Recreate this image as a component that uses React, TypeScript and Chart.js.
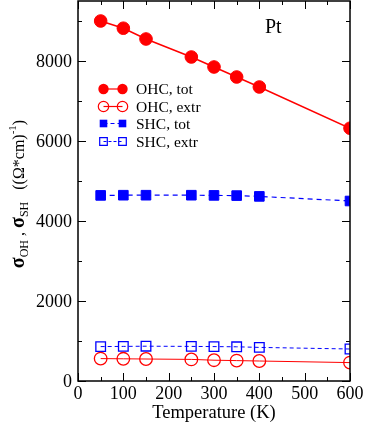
import React, { useEffect, useRef } from "react";
import { Chart, registerables } from "chart.js";

Chart.register(...registerables);

const temps = [50, 100, 150, 250, 300, 350, 400, 600];
const ohcTot = [9000, 8820, 8550, 8100, 7850, 7600, 7350, 6320];
const ohcExtr = [560, 555, 550, 540, 520, 510, 500, 460];
const shcTot = [4640, 4645, 4645, 4645, 4640, 4635, 4615, 4500];
const shcExtr = [860, 865, 870, 865, 860, 855, 840, 800];
const xTicks = [0, 100, 200, 300, 400, 500, 600];
const yTicks = [0, 2000, 4000, 6000, 8000];
const legendLabels = ["OHC, tot", "OHC, extr", "SHC, tot", "SHC, extr"];
const panelLabel = "Pt";
const xTitle = "Temperature (K)";

const RED = "#ff0000";
const BLUE = "#0000ff";
const FONT = "'Liberation Serif', 'Times New Roman', serif";

const framePlugin = {
  id: "frame",
  afterDraw(chart: any) {
    const { ctx, chartArea: a, scales } = chart;
    const xs = scales.x, ys = scales.y;
    ctx.save();
    ctx.strokeStyle = "#000";
    ctx.lineWidth = 1.5;
    ctx.strokeRect(a.left, a.top, a.right - a.left, a.bottom - a.top);
    ctx.lineWidth = 1;
    for (let v = 0; v <= 600; v += 50) {
      const x = Math.round(xs.getPixelForValue(v)) + 0.5;
      const len = v % 100 === 0 ? 8 : 4;
      ctx.beginPath();
      ctx.moveTo(x, a.bottom); ctx.lineTo(x, a.bottom - len);
      ctx.moveTo(x, a.top); ctx.lineTo(x, a.top + len);
      ctx.stroke();
    }
    for (let v = 0; v <= 9000; v += 1000) {
      const y = Math.round(ys.getPixelForValue(v)) + 0.5;
      const len = v % 2000 === 0 ? 8 : 4;
      ctx.beginPath();
      ctx.moveTo(a.left, y); ctx.lineTo(a.left + len, y);
      ctx.moveTo(a.right, y); ctx.lineTo(a.right - len, y);
      ctx.stroke();
    }
    ctx.fillStyle = "#000";
    ctx.font = `18px ${FONT}`;
    ctx.textAlign = "right";
    ctx.textBaseline = "middle";
    yTicks.forEach((v) => {
      ctx.fillText(String(v), a.left - 6, ys.getPixelForValue(v) + 1);
    });

    ctx.font = `20px ${FONT}`;
    ctx.textAlign = "left";
    ctx.textBaseline = "alphabetic";
    ctx.fillText(panelLabel, 265, 33);

    const rows = [89, 106.5, 123.5, 141.5];
    const styles = [
      { color: RED, shape: "circle", fill: true, dash: [] as number[] },
      { color: RED, shape: "circle", fill: false, dash: [] as number[] },
      { color: BLUE, shape: "rect", fill: true, dash: [4, 3] },
      { color: BLUE, shape: "rect", fill: false, dash: [3, 2] },
    ];
    ctx.font = `15.5px ${FONT}`;
    ctx.textBaseline = "middle";
    rows.forEach((y, i) => {
      const s = styles[i];
      const x1 = 103.5, x2 = 122.5;
      ctx.strokeStyle = s.color;
      ctx.lineWidth = 1.2;
      ctx.setLineDash(s.dash);
      ctx.beginPath(); ctx.moveTo(x1, y); ctx.lineTo(x2, y); ctx.stroke();
      ctx.setLineDash([]);
      [x1, x2].forEach((x) => {
        ctx.beginPath();
        if (s.shape === "circle") {
          ctx.arc(x, y, 5.2, 0, Math.PI * 2);
        } else {
          ctx.rect(x - 3.8, y - 3.8, 7.6, 7.6);
        }
        if (s.fill) { ctx.fillStyle = s.color; ctx.fill(); }
        else { ctx.lineWidth = 1.2; ctx.stroke(); }
      });
      ctx.fillStyle = "#000";
      ctx.fillText(legendLabels[i], 136, y + 1);
    });

    ctx.save();
    ctx.translate(18, 194);
    ctx.rotate(-Math.PI / 2);
    ctx.fillStyle = "#000";
    ctx.textBaseline = "alphabetic";
    const parts: [string, string, number][] = [
      ["σ", `bold 20px ${FONT}`, 0], ["OH", `12px ${FONT}`, 4], [" , ", `16px ${FONT}`, 0],
      ["σ", `bold 20px ${FONT}`, 0], ["SH", `12px ${FONT}`, 4],
      ["   ((Ω*cm)", `16px ${FONT}`, 0], ["-1", `11px ${FONT}`, -8], [")", `16px ${FONT}`, 0],
    ];
    let total = 0;
    parts.forEach(([t, f]) => { ctx.font = f; total += ctx.measureText(t).width; });
    let cx = -total / 2;
    parts.forEach(([t, f, dy]) => {
      ctx.font = f;
      ctx.fillText(t, cx, 6 + dy);
      cx += ctx.measureText(t).width;
    });
    ctx.restore();
    ctx.restore();
  },
};

export default function App() {
  const ref = useRef<HTMLCanvasElement>(null);
  useEffect(() => {
    const mk = (data: number[]) => temps.map((t, i) => ({ x: t, y: data[i] }));
    const chart = new Chart(ref.current!, {
      type: "line",
      data: {
        datasets: [
          { data: mk(ohcTot), borderColor: RED, backgroundColor: RED, borderWidth: 1.5, pointStyle: "circle", pointRadius: 6.3, pointBorderWidth: 1 },
          { data: mk(ohcExtr), borderColor: RED, backgroundColor: "rgba(0,0,0,0)", borderWidth: 1, pointStyle: "circle", pointRadius: 6.3, pointBorderWidth: 1.3 },
          { data: mk(shcTot), borderColor: BLUE, backgroundColor: BLUE, borderWidth: 1.2, borderDash: [5, 4], pointStyle: "rect", pointRadius: 6.8, pointBorderWidth: 1 },
          { data: mk(shcExtr), borderColor: BLUE, backgroundColor: "rgba(0,0,0,0)", borderWidth: 1, borderDash: [4, 3], pointStyle: "rect", pointRadius: 6.8, pointBorderWidth: 1.3 },
        ],
      },
      options: {
        animation: false,
        responsive: false,
        layout: { autoPadding: false, padding: { left: 78, right: 16, top: 1, bottom: 0 } },
        plugins: { legend: { display: false }, tooltip: { enabled: false } },
        scales: {
          x: {
            type: "linear", min: 0, max: 600,
            afterBuildTicks: (s: any) => { s.ticks = xTicks.map((v) => ({ value: v })); },
            afterFit: (s: any) => { s.height = 43; s.paddingLeft = 0; s.paddingRight = 0; },
            grid: { display: false, drawTicks: false },
            border: { display: false },
            ticks: { color: "#000", font: { family: FONT, size: 18 }, padding: 2, maxRotation: 0, callback: (v: any) => String(v) },
            title: { display: true, text: xTitle, color: "#000", font: { family: FONT, size: 18.5 }, padding: { top: 0, bottom: 0 } },
          },
          y: {
            type: "linear", min: 0, max: 9500, display: false,
          },
        },
      },
      plugins: [framePlugin],
    } as any);
    return () => chart.destroy();
  }, []);
  return (
    <div style={{ position: "fixed", left: 0, top: 0, width: 366, height: 424, background: "#fff" }}>
      <canvas ref={ref} width={366} height={424} />
    </div>
  );
}
